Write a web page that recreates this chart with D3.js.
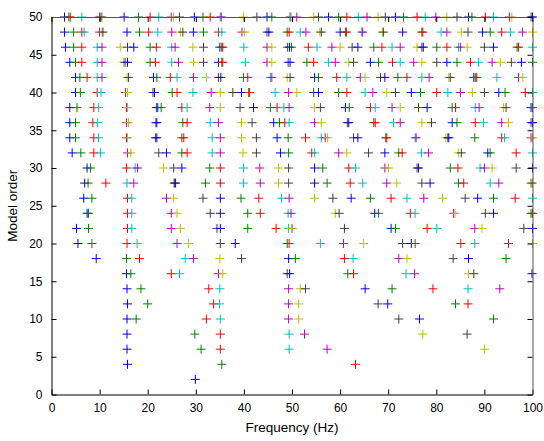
<!DOCTYPE html>
<html><head><meta charset="utf-8">
<script src="https://cdn.jsdelivr.net/npm/d3@7"></script>
<style>
html,body{margin:0;padding:0;background:#fff;}
svg text{font-family:"Liberation Sans",Arial,sans-serif;}
</style></head>
<body>
<svg id="chart" width="544" height="441"></svg>
<script>
// ---- data ----
const xTicks = [0,10,20,30,40,50,60,70,80,90,100];
const yTicks = [0,5,10,15,20,25,30,35,40,45,50];
const orders = [2,4,6,8,10,12,14,16,18,20,22,24,26,28,30,32,34,36,38,40,42,44,46,48,50];
const seriesColors = ["#0000ff","#008000","#ff0000","#00bfbf","#bf00bf","#bfbf00","#404040"];

const f2  = [29.9];
const f4  = [15.8,35.4,63.2];
const f6  = [15.7,31.1,35.1,49.4,57.3,90.0];
const f8  = [15.7,29.8,35.1,49.4,52.6,77.2,86.4];
const f10 = [15.7,17.6,32.2,35.1,49.3,51.4,72.2,76.5,91.9];
const f12 = [15.8,20.0,33.7,34.9,49.3,51.4,67.9,69.9,84.0,86.6];
const f14 = [15.7,18.6,32.7,35.0,49.3,51.7,52.8,65.2,70.8,79.3,86.6,93.2];
const f16 = [15.6,16.5,24.9,26.6,34.7,35.6,49.0,49.5,61.6,62.8,73.7,75.5,86.7,87.8,99.9];
const f18 = [9.3,15.6,18.3,27.8,29.5,35.0,39.5,49.3,50.7,60.9,62.7,72.2,73.9,83.5,86.7,94.5];
const f20 = [5.5,8.4,15.7,17.8,26.1,28.5,35.1,38.2,49.0,49.4,55.9,60.7,64.9,73.0,74.8,75.6,85.1,88.0,95.0,100];
const f22 = [5.2,7.7,15.8,16.7,24.9,26.8,34.4,35.1,40.8,46.7,49.3,50.0,49.9,60.9,70.6,71.5,78.1,80.1,88.0,89.5,98.2,100];
const f24 = [7.4,7.7,15.8,16.7,24.9,26.1,33.0,35.1,40.8,43.4,49.2,49.8,59.0,59.8,67.2,68.0,74.6,75.6,83.6,83.9,90.2,91.9,99.7,100];
const f26 = [6.7,8.4,15.8,16.7,23.9,25.4,31.5,35.1,39.4,43.1,47.8,49.4,54.7,58.5,62.3,66.3,70.6,73.9,77.4,81.3,86.0,88.6,91.9,96.4,100];
const f28 = [6.9,7.6,11.3,15.7,17.1,25.4,25.6,25.8,32.0,35.1,39.9,43.4,47.2,49.3,54.7,57.3,62.1,64.7,69.7,71.8,77.0,78.7,84.6,85.7,91.2,93.0,99.6,99.9];
const f30 = [7.4,8.1,15.6,17.4,17.9,23.3,25.4,27.1,32.9,35.1,39.9,43.3,47.2,49.3,54.7,56.4,61.8,63.2,69.3,70.1,76.0,76.3,82.9,84.5,89.1,90.0,91.6,96.6,100];
const f32 = [4.3,6.1,8.8,10.2,15.8,16.5,22.3,23.9,27.1,28.2,33.4,35.1,39.8,42.6,47.6,49.3,54.1,54.7,59.7,61.4,65.9,69.3,72.2,72.9,76.9,78.4,84.6,85.2,90.7,91.2,96.6,100];
const f34 = [3.8,5.0,8.8,9.8,15.6,15.8,21.6,21.9,27.1,27.5,33.4,35.1,39.5,42.6,46.9,49.2,52.8,56.1,56.9,57.4,62.8,63.7,69.5,69.7,75.6,75.8,82.0,82.4,82.6,88.0,93.6,94.2,99.7,100];
const f36 = [3.8,5.0,8.6,9.6,15.6,16.0,21.7,21.9,27.3,28.2,33.0,34.7,39.5,41.7,46.2,47.4,48.5,49.4,54.7,56.1,61.5,61.8,67.0,67.3,71.1,72.5,77.0,79.0,83.3,84.3,88.1,89.8,93.6,95.0,99.7,100];
const f38 = [3.8,5.3,8.8,9.8,15.6,15.8,21.8,22.1,22.8,27.1,28.2,32.9,35.1,39.2,42.0,45.5,46.9,48.3,49.4,54.7,55.9,61.1,61.9,66.3,67.3,70.8,72.5,76.3,78.1,83.3,84.0,88.1,88.9,94.0,94.5,99.7,100];
const f40 = [5.0,6.0,9.5,10.3,15.4,15.8,21.1,21.4,25.1,26.1,29.4,33.2,35.1,37.7,39.5,41.0,41.2,46.5,49.3,51.0,54.5,55.5,59.7,61.4,65.2,66.8,69.7,71.5,74.8,76.7,80.1,82.4,85.0,87.5,90.0,93.0,94.3,98.5,100];
const f42 = [5.0,5.9,7.4,9.5,10.5,15.7,16.0,21.2,21.9,24.7,26.1,29.5,32.2,34.7,35.2,39.9,40.8,45.5,45.8,49.0,49.6,54.7,55.5,59.3,61.4,64.2,65.2,68.4,69.3,72.0,73.9,77.0,78.5,82.6,82.9,87.8,88.1,88.4,92.6,97.1,98.0];
const f44 = [3.8,5.0,6.3,9.5,10.5,15.0,15.3,15.8,20.5,21.6,25.0,26.4,29.5,31.6,34.7,35.4,35.6,40.3,44.8,45.8,49.2,49.6,53.1,54.5,57.6,59.0,61.8,62.8,66.3,68.0,70.9,72.5,75.3,77.0,80.1,82.2,84.3,87.1,88.8,91.6,93.3,95.6,97.7,100];
const f46 = [2.9,4.6,6.3,9.5,10.5,14.3,15.8,17.1,20.5,21.8,25.0,25.7,29.4,31.6,35.0,35.4,35.6,40.0,44.8,45.8,49.1,49.5,49.9,53.4,55.2,58.3,60.0,62.5,63.7,67.0,68.7,70.8,72.5,76.0,77.0,77.3,80.1,82.2,84.6,85.0,86.4,90.0,91.9,96.8,97.1,100];
const f48 = [2.7,4.6,6.3,6.8,10.0,10.5,10.7,15.7,18.3,20.2,22.1,25.0,26.8,27.3,29.5,31.6,34.7,35.4,39.6,40.1,44.8,45.2,49.0,49.4,51.7,52.9,55.8,56.1,60.0,61.1,61.3,64.5,64.7,68.8,69.0,73.0,77.0,77.2,81.0,82.2,85.2,86.6,89.6,91.2,93.6,95.4,97.9,100];
const f50 = [2.7,3.6,3.9,6.3,10.0,10.5,10.3,15.1,18.1,20.5,22.3,24.9,25.4,26.6,29.7,31.5,33.0,35.1,35.3,39.9,42.7,44.8,45.8,49.6,49.8,51.0,54.5,55.5,57.6,59.7,61.4,63.8,65.6,67.9,69.4,71.5,73.2,76.0,77.7,79.9,82.2,84.3,86.7,87.4,90.2,91.9,95.2,95.7,99.7,100];

const poles = [f2,f4,f6,f8,f10,f12,f14,f16,f18,f20,f22,f24,f26,f28,f30,f32,f34,f36,f38,f40,f42,f44,f46,f48,f50];

// ---- layout ----
const svg = d3.select("#chart");
const L = 51.5, R = 532.5, T = 17, B = 394.5;
const x = d3.scaleLinear().domain([0,100]).range([L,R]);
const y = d3.scaleLinear().domain([0,50]).range([B,T]);

// markers
const g = svg.append("g");
const arm = 4.5;
orders.forEach((o,k) => {
  poles[k].forEach((f,i) => {
    const cx = x(f), cy = y(o);
    g.append("path")
      .attr("d", `M${cx-arm},${cy}H${cx+arm}M${cx},${cy-arm}V${cy+arm}`)
      .attr("stroke", seriesColors[i % seriesColors.length])
      .attr("stroke-width", 1)
      .attr("fill", "none");
  });
});

// axes
const fmt = d3.format("d");
const ax = svg.append("g").attr("transform", `translate(0,${B})`)
  .call(d3.axisBottom(x).tickValues(xTicks).tickFormat(fmt).tickSizeInner(-5).tickSizeOuter(0).tickPadding(9));
const ay = svg.append("g").attr("transform", `translate(${L},0)`)
  .call(d3.axisLeft(y).tickValues(yTicks).tickFormat(fmt).tickSizeInner(-5).tickSizeOuter(0).tickPadding(9));
const axT = svg.append("g").attr("transform", `translate(0,${T})`)
  .call(d3.axisTop(x).tickValues(xTicks).tickFormat("").tickSizeInner(-5).tickSizeOuter(0));
const ayR = svg.append("g").attr("transform", `translate(${R},0)`)
  .call(d3.axisRight(y).tickValues(yTicks).tickFormat("").tickSizeInner(-5).tickSizeOuter(0));
[ax,ay,axT,ayR].forEach(a => {
  a.selectAll("text").attr("font-size", 12).attr("fill", "#000")
    .style("font-family", "'Liberation Sans',Arial,sans-serif");
  a.selectAll("line").attr("stroke", "#000");
  a.select(".domain").attr("stroke", "#000");
});
axT.select(".domain").attr("stroke", "#555");
ayR.select(".domain").attr("stroke", "#555");

// labels
svg.append("text").attr("x", (L+R)/2).attr("y", 432).attr("text-anchor","middle")
  .attr("font-size", 13.5).text("Frequency (Hz)");
svg.append("text").attr("transform", `translate(17,${(T+B)/2}) rotate(-90)`)
  .attr("text-anchor","middle").attr("font-size", 13.5).text("Model order");
</script>
</body></html>
